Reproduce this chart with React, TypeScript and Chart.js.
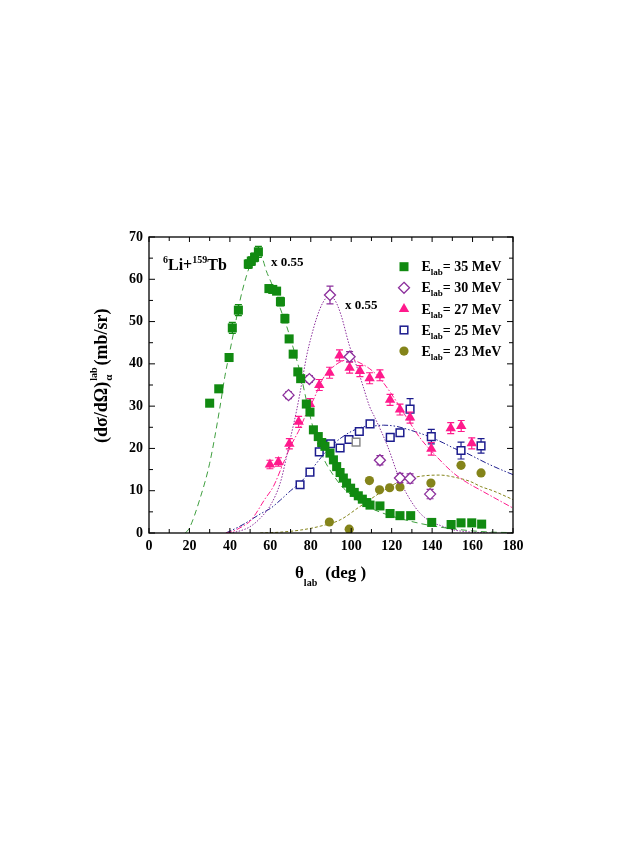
import React, { useEffect, useRef } from "react";
import { Chart, registerables } from "chart.js";

Chart.register(...registerables);

// measured points, theta_lab (deg) and dsigma/dOmega (mb/sr)
const angles35 = [30, 34.5, 39.6, 41.2, 44.2, 49.1, 50.6, 52.2, 54.1, 59.3, 61.2, 63.1, 65, 67.2, 69.3, 71.3, 73.6, 75, 77.8, 79.6, 81.3, 83.7, 85.4, 87, 89.5, 91.2, 92.8, 94.5, 96.1, 97.7, 99.7, 101.5, 103.5, 105.5, 107.7, 109.3, 114.2, 119.2, 124.1, 129.4, 139.8, 149.4, 154.3, 159.6, 164.5];
const sigma35 = [30.7, 34.1, 41.5, 48.5, 52.7, 63.6, 64.3, 65.2, 66.5, 57.8, 57.6, 57.2, 54.7, 50.7, 45.9, 42.3, 38.1, 36.5, 30.5, 28.6, 24.4, 22.8, 21.4, 20.5, 18.9, 17.3, 15.7, 14.3, 13.0, 11.8, 10.6, 9.6, 8.8, 8.0, 7.2, 6.6, 6.4, 4.6, 4.1, 4.1, 2.5, 2.0, 2.4, 2.4, 2.1];
const err35 = [0, 0, 0, 1.3, 1.3, 1, 1, 1, 1.3, 0.8, 0.8, 0.8, 1, 1, 0, 0, 0, 0, 0, 0, 0, 0, 0, 0, 0, 0, 0, 0, 0, 0, 0, 0, 0, 0, 0, 0, 0, 0, 0, 0, 0, 0, 0, 0, 0];

const angles30 = [69, 79.3, 89.5, 99.2, 114.2, 124.1, 129.1, 139];
const sigma30 = [32.6, 36.4, 56.3, 41.7, 17.2, 13.0, 12.9, 9.2];
const err30 = [0.8, 0.8, 2.1, 1.2, 1.1, 1.1, 1.1, 1.1];

const angles27 = [59.8, 64, 69.4, 74, 79.6, 84.2, 89.3, 94.2, 99.2, 104.3, 109.1, 114.2, 119.2, 124.1, 129.1, 139.6, 149.2, 154.4, 159.6];
const sigma27 = [16.2, 16.8, 21.1, 26.3, 30.5, 35, 37.9, 42, 39.1, 38.3, 36.6, 37.3, 31.5, 29.2, 27.3, 19.9, 24.8, 25.3, 21.2];
const err27 = [1, 1, 1.2, 1.3, 1.3, 1.3, 1.3, 1.3, 1.3, 1.3, 1.3, 1.3, 1.3, 1.3, 1.3, 1.5, 1.3, 1.3, 1.3];

const angles25 = [74.7, 79.6, 84.2, 89.8, 94.5, 98.9, 102.4, 104, 109.3, 119.3, 124.1, 129.1, 139.6, 154.3, 164.2];
const sigma25 = [11.4, 14.4, 19.2, 21.1, 20.1, 22.1, 21.5, 24, 25.8, 22.6, 23.7, 29.3, 22.8, 19.5, 20.6];
const err25 = [0.5, 0.5, 0.6, 0.6, 0.6, 0.6, 0, 0.6, 0.8, 0.8, 0.8, 2.5, 1.7, 2, 1.7];

const angles23 = [89.2, 99, 109, 114, 119, 124.1, 139.4, 154.3, 164.2];
const sigma23 = [2.6, 0.9, 12.4, 10.2, 10.7, 10.9, 11.8, 16, 14.2];

// calculated curves
const curve35x = [18, 20, 25, 30, 35, 37.5, 40, 42.5, 45, 48, 51, 53.5, 56, 58, 61.5, 65, 68, 71.5, 75, 78, 80, 82.5, 85, 87.5, 90, 95, 100, 105, 110, 120, 130, 140, 150, 160, 170, 180];
const curve35y = [0, 1.2, 7.8, 16.5, 29.5, 37, 43, 49, 55, 60.5, 64.5, 66, 65, 62, 58, 53, 49, 43.5, 37.5, 31, 27, 22.5, 19, 16.5, 14.5, 11.2, 9, 7.2, 5.8, 4, 2.7, 1.7, 1, 0.5, 0.2, 0.1];

const curve30x = [40, 45, 50, 55, 60, 65, 68, 70, 73, 75, 78, 80, 83, 86, 89, 92, 95, 99, 103, 106, 109, 112, 118, 124, 129, 134, 140, 144, 150, 155, 160, 170];
const curve30y = [0, 0.5, 1.5, 3.5, 6.5, 12, 18, 22.5, 29, 34, 42, 46, 51, 54.5, 56, 55, 51.5, 44.5, 39, 34.5, 30, 27, 20.5, 12.6, 8, 4.7, 2.5, 1.8, 0.8, 0.4, 0.2, 0];

const curve27x = [38, 42, 46, 50, 53, 57, 61.5, 66.4, 70, 74.7, 78, 81.3, 86, 93, 99, 106, 112.6, 119, 127, 134, 140.6, 150.5, 157, 163.7, 172, 180];
const curve27y = [0, 0.5, 1.5, 2.8, 4.7, 7.8, 11, 16.5, 20.5, 24.8, 28.5, 31.5, 36.5, 40, 41, 39.8, 37.4, 33.5, 27.6, 22.5, 18.9, 14.2, 12, 10.2, 8, 5.9];

const curve25x = [38, 45, 50, 55, 60, 65, 70, 75, 80, 85, 90, 95, 100, 105, 111, 116, 122.5, 128, 134, 140, 145.6, 151, 157, 162, 167, 173, 180];
const curve25y = [0, 1.6, 3, 4.5, 5.8, 7.8, 10, 12, 14.8, 17.8, 20.5, 22.5, 24, 25, 25.3, 25.5, 25.2, 24.5, 23.6, 22.5, 21.3, 20, 18.9, 17.7, 16.5, 15.2, 13.8];

const curve23x = [55, 65, 75, 84.6, 94.5, 104.4, 114.3, 124.1, 134, 143.9, 150, 158.8, 164, 170, 180];
const curve23y = [0, 0.2, 0.7, 1.6, 3.1, 6.3, 9.5, 12.2, 13.4, 13.7, 13.3, 12.2, 11, 10, 7.9];

const xTicksMinor = 10;
const yTicksMinor = 5;
const legendLabels = ["= 35 MeV", "= 30 MeV", "= 27 MeV", "= 25 MeV", "= 23 MeV"];

const GREEN = "#118a11";
const GREEN_LINE = "#3f9f3f";
const PURPLE = "#8c2f9c";
const PINK = "#ff1a8c";
const NAVY = "#1c1c8e";
const OLIVE = "#84841a";
const GREY = "#8a8a8a";
const SERIF = "'Liberation Serif', 'Times New Roman', serif";

const pts = (xs: number[], ys: number[]) => xs.map((x, i) => ({ x, y: ys[i] }));
const errorSets: (number[] | undefined)[] = [err35, err30, err27, err25, undefined];

const errorBars = {
  id: "errorBars",
  beforeDatasetDraw(chart: any, args: any) {
    const errs = errorSets[args.index];
    if (!errs) return;
    const ds = chart.data.datasets[args.index];
    const { ctx } = chart;
    const xs = chart.scales.x;
    const ys = chart.scales.y;
    ctx.save();
    ctx.lineWidth = 1.2;
    ds.data.forEach((p: any, i: number) => {
      const e = errs[i];
      if (!e) return;
      ctx.strokeStyle = Array.isArray(ds.borderColor) ? ds.borderColor[i] : ds.borderColor;
      const px = xs.getPixelForValue(p.x);
      const y1 = ys.getPixelForValue(p.y - e);
      const y2 = ys.getPixelForValue(p.y + e);
      ctx.beginPath();
      ctx.moveTo(px, y1);
      ctx.lineTo(px, y2);
      ctx.moveTo(px - 3.5, y1);
      ctx.lineTo(px + 3.5, y1);
      ctx.moveTo(px - 3.5, y2);
      ctx.lineTo(px + 3.5, y2);
      ctx.stroke();
    });
    ctx.restore();
  },
};

const drawMarker = (ctx: CanvasRenderingContext2D, kind: number, x: number, y: number) => {
  ctx.beginPath();
  if (kind === 0) {
    ctx.fillStyle = GREEN;
    ctx.fillRect(x - 4.5, y - 4.5, 9, 9);
  } else if (kind === 1) {
    ctx.strokeStyle = PURPLE;
    ctx.lineWidth = 1.3;
    ctx.moveTo(x, y - 5.5);
    ctx.lineTo(x + 5.5, y);
    ctx.lineTo(x, y + 5.5);
    ctx.lineTo(x - 5.5, y);
    ctx.closePath();
    ctx.stroke();
  } else if (kind === 2) {
    ctx.fillStyle = PINK;
    ctx.moveTo(x, y - 6);
    ctx.lineTo(x + 5.2, y + 3);
    ctx.lineTo(x - 5.2, y + 3);
    ctx.closePath();
    ctx.fill();
  } else if (kind === 3) {
    ctx.strokeStyle = NAVY;
    ctx.lineWidth = 1.5;
    ctx.strokeRect(x - 3.8, y - 3.8, 7.6, 7.6);
  } else {
    ctx.fillStyle = OLIVE;
    ctx.arc(x, y, 4.6, 0, Math.PI * 2);
    ctx.fill();
  }
};

const decorations = {
  id: "decorations",
  afterDraw(chart: any) {
    const { ctx, chartArea: a } = chart;
    const xs = chart.scales.x;
    const ys = chart.scales.y;
    ctx.save();
    // frame and inward ticks on all sides
    ctx.strokeStyle = "#000";
    ctx.lineWidth = 1.3;
    ctx.strokeRect(a.left, a.top, a.right - a.left, a.bottom - a.top);
    ctx.lineWidth = 1;
    ctx.beginPath();
    for (let v = xs.min; v <= xs.max; v += xTicksMinor) {
      const px = xs.getPixelForValue(v);
      const len = v % 20 === 0 ? 5 : 4;
      ctx.moveTo(px, a.bottom);
      ctx.lineTo(px, a.bottom - len);
      ctx.moveTo(px, a.top);
      ctx.lineTo(px, a.top + len);
    }
    for (let v = ys.min; v <= ys.max; v += yTicksMinor) {
      const py = ys.getPixelForValue(v);
      const len = v % 10 === 0 ? 6 : 4;
      ctx.moveTo(a.left, py);
      ctx.lineTo(a.left + len, py);
      ctx.moveTo(a.right, py);
      ctx.lineTo(a.right - len, py);
    }
    ctx.stroke();

    ctx.fillStyle = "#000";
    ctx.textBaseline = "alphabetic";
    ctx.textAlign = "left";

    // reaction label
    let tx = a.left + 14;
    const ty = a.top + 33;
    const part = (s: string, size: number, dy: number) => {
      ctx.font = `bold ${size}px ${SERIF}`;
      ctx.fillText(s, tx, ty + dy);
      tx += ctx.measureText(s).width;
    };
    part("6", 10, -7);
    part("Li+", 16, 0);
    part("159", 10, -7);
    part("Tb", 16, 0);

    // scale factors
    ctx.font = `bold 13px ${SERIF}`;
    ctx.textBaseline = "middle";
    ctx.fillText("x 0.55", xs.getPixelForValue(60.3), ys.getPixelForValue(63.9));
    ctx.fillText("x 0.55", xs.getPixelForValue(96.9), ys.getPixelForValue(53.7));

    // legend
    ctx.textBaseline = "alphabetic";
    legendLabels.forEach((label, i) => {
      const cy = a.top + 29.7 + i * 21.1;
      drawMarker(ctx, i, a.left + 255, cy);
      ctx.fillStyle = "#000";
      let lx = a.left + 272.5;
      ctx.font = `bold 14px ${SERIF}`;
      ctx.fillText("E", lx, cy + 4.6);
      lx += ctx.measureText("E").width;
      ctx.font = `bold 9px ${SERIF}`;
      ctx.fillText("lab", lx, cy + 8.6);
      lx += ctx.measureText("lab").width;
      ctx.font = `bold 14px ${SERIF}`;
      ctx.fillText(label, lx, cy + 4.6);
    });

    // x axis title
    let xx = a.left + 146;
    const xb = a.bottom + 45;
    ctx.font = `bold 17px ${SERIF}`;
    ctx.fillText("\u03b8", xx, xb);
    xx += ctx.measureText("\u03b8").width;
    ctx.font = `bold 10px ${SERIF}`;
    ctx.fillText("lab", xx, xb + 8);
    xx += ctx.measureText("lab").width + 8;
    ctx.font = `bold 17px ${SERIF}`;
    ctx.fillText("(deg )", xx, xb);

    // y axis title, rotated
    ctx.translate(a.left - 42, a.bottom - 90);
    ctx.rotate(-Math.PI / 2);
    ctx.font = `bold 18px ${SERIF}`;
    const main = "(d\u03c3/d\u03a9)";
    ctx.fillText(main, 0, 0);
    let w = ctx.measureText(main).width + 1;
    ctx.font = `bold 10px ${SERIF}`;
    ctx.fillText("lab", w, -10);
    const labW = ctx.measureText("lab").width;
    ctx.font = `bold 11px ${SERIF}`;
    ctx.fillText("\u03b1", w, 5);
    w += labW + 2;
    ctx.font = `bold 18px ${SERIF}`;
    ctx.fillText("(mb/sr)", w, 0);
    ctx.restore();
  },
};

const curve = (xs: number[], ys: number[], color: string, dash: number[], width = 1) => ({
  data: pts(xs, ys),
  showLine: true,
  borderColor: color,
  borderWidth: width,
  borderDash: dash,
  pointRadius: 0,
  cubicInterpolationMode: "monotone" as const,
  order: 2,
});

const App = () => {
  const chartRef = useRef<HTMLCanvasElement | null>(null);

  useEffect(() => {
    if (!chartRef.current) return;
    const ctx = chartRef.current.getContext("2d");
    if (!ctx) throw new Error("Could not get chart context");

    const blueBorders = angles25.map((_, i) => (i === 6 ? GREY : NAVY));

    const myChart = new Chart(ctx, {
      type: "scatter",
      data: {
        datasets: [
          { data: pts(angles35, sigma35), pointStyle: "rect", pointRadius: 6.4, backgroundColor: GREEN, borderColor: GREEN, borderWidth: 0, order: 1 },
          { data: pts(angles30, sigma30), pointStyle: "rectRot", pointRadius: 5.5, backgroundColor: "#fff", borderColor: PURPLE, borderWidth: 1.3, order: 1 },
          { data: pts(angles27, sigma27), pointStyle: "triangle", pointRadius: 6, backgroundColor: PINK, borderColor: PINK, borderWidth: 0, order: 1 },
          { data: pts(angles25, sigma25), pointStyle: "rect", pointRadius: 5.4, backgroundColor: "#fff", borderColor: blueBorders, borderWidth: 1.5, order: 1 },
          { data: pts(angles23, sigma23), pointStyle: "circle", pointRadius: 4.6, backgroundColor: OLIVE, borderColor: OLIVE, borderWidth: 0, order: 1 },
          curve(curve35x, curve35y, GREEN_LINE, [6, 4]),
          curve(curve30x, curve30y, PURPLE, [1.5, 1.5]),
          curve(curve27x, curve27y, PINK, [6, 2, 1.5, 2]),
          curve(curve25x, curve25y, NAVY, [6, 2, 1.5, 2, 1.5, 2]),
          curve(curve23x, curve23y, OLIVE, [3, 2]),
        ] as any,
      },
      options: {
        responsive: false,
        animation: false,
        layout: { padding: { left: 109, right: 130, top: 237, bottom: 285 } },
        plugins: { legend: { display: false }, tooltip: { enabled: false } },
        scales: {
          x: {
            type: "linear",
            min: 0,
            max: 180,
            afterFit: (s: any) => { s.height = 24; },
            grid: { display: false, drawTicks: false },
            border: { display: false },
            ticks: { stepSize: 20, padding: 5, color: "#000", font: { family: SERIF, size: 14, weight: "bold" } },
          },
          y: {
            type: "linear",
            min: 0,
            max: 70,
            afterFit: (s: any) => { s.width = 40; },
            grid: { display: false, drawTicks: false },
            border: { display: false },
            ticks: { stepSize: 10, padding: 6, color: "#000", font: { family: SERIF, size: 14, weight: "bold" } },
          },
        },
      },
      plugins: [errorBars, decorations],
    });

    return () => {
      myChart.destroy();
    };
  }, []);

  return (
    <div style={{ position: "absolute", left: 0, top: 0, width: 643, height: 842, background: "#fff" }}>
      <canvas ref={chartRef} width={643} height={842} style={{ display: "block" }} />
    </div>
  );
};

export default App;
